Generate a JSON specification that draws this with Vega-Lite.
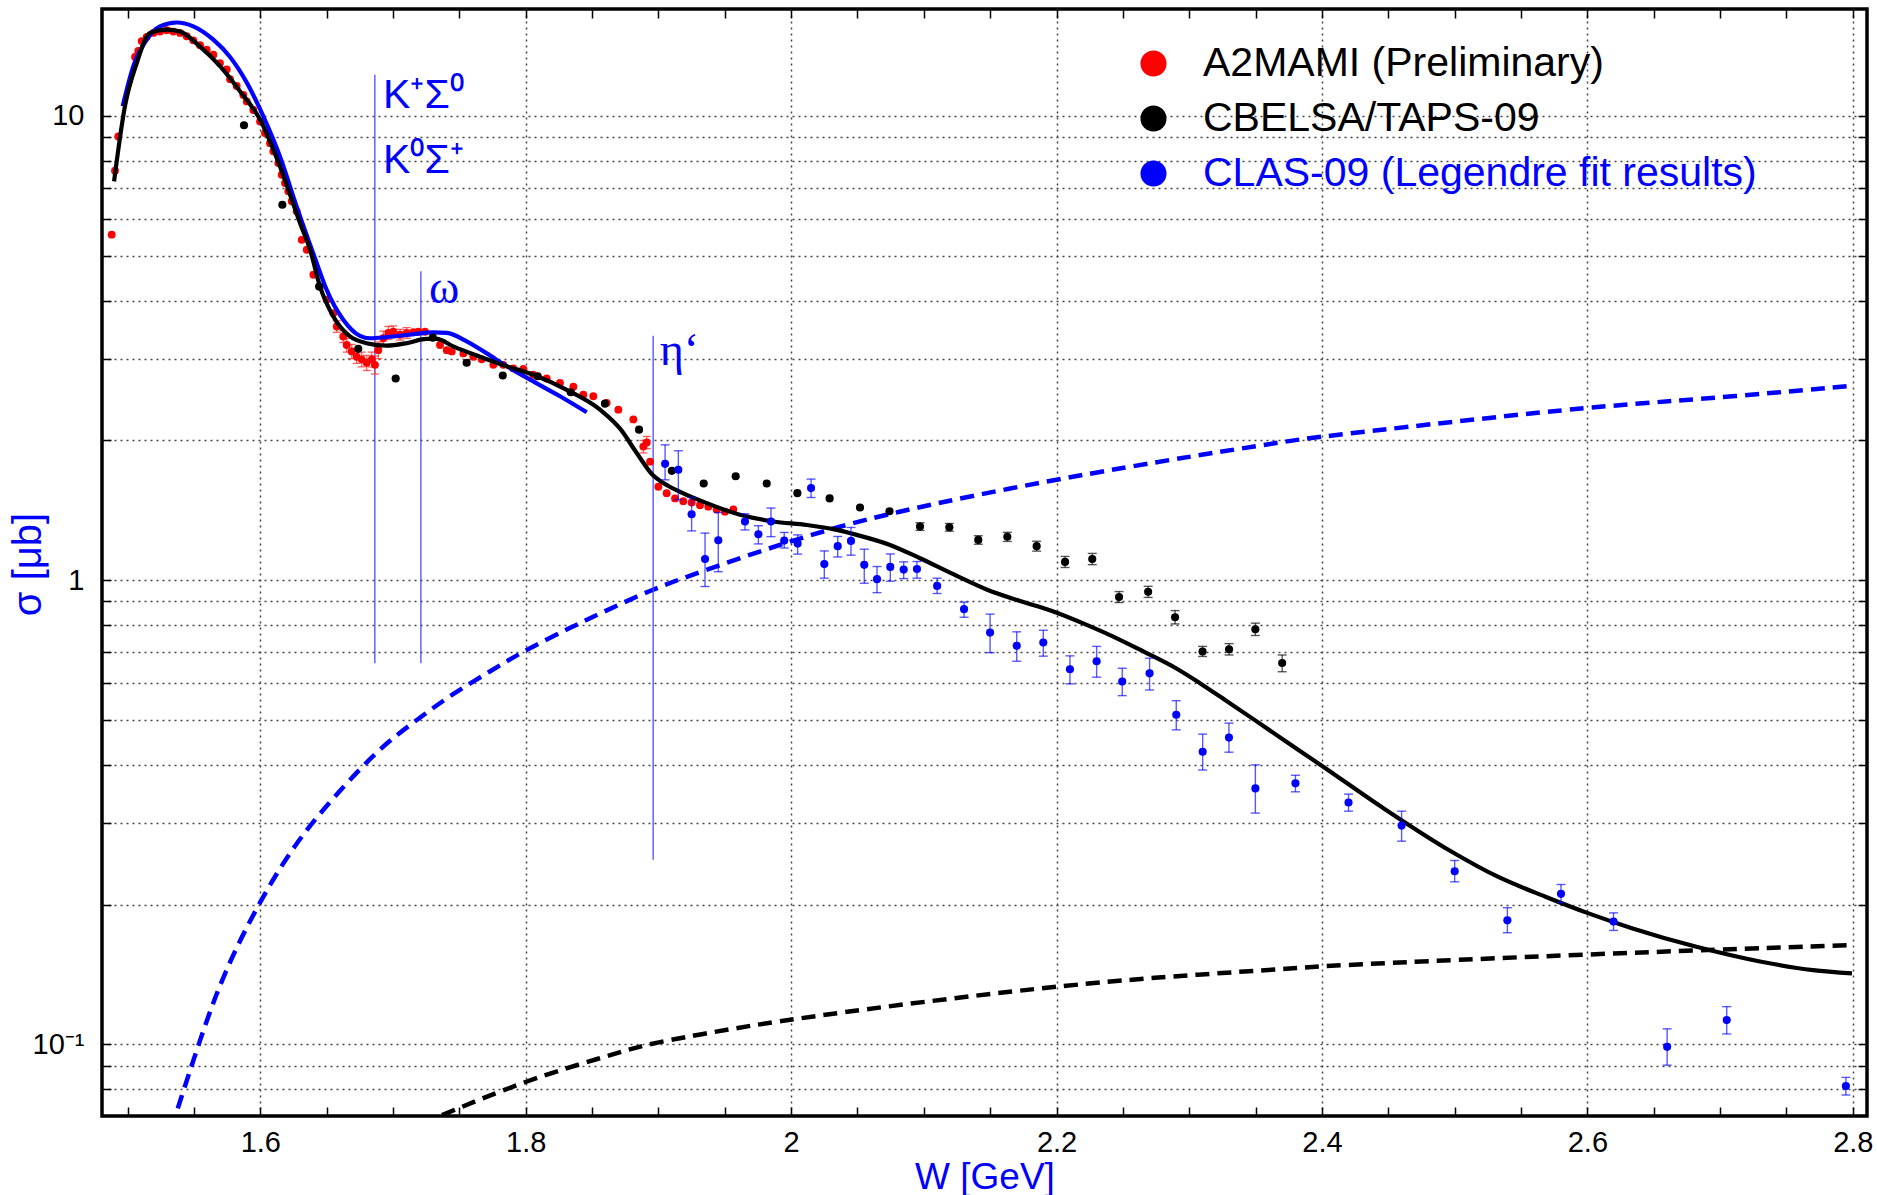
{
  "$schema": "https://vega.github.io/schema/vega-lite/v6.json",
  "width": 1765,
  "height": 1107,
  "autosize": {"type": "none"},
  "padding": {"left": 102, "top": 9, "right": 10, "bottom": 79},
  "background": "white",
  "config": {
    "view": {"stroke": "black", "strokeWidth": 3.5},
    "font": "Liberation Sans"
  },
  "resolve": {"axis": {"x": "independent", "y": "independent"}},
  "datasets": {
    "blueDash": [
      {"W": 1.5378, "s": 0.0728}, {"W": 1.5536, "s": 0.1005}, {"W": 1.572, "s": 0.142}, {"W": 1.6, "s": 0.2047},
      {"W": 1.6259, "s": 0.2700}, {"W": 1.6511, "s": 0.330}, {"W": 1.6763, "s": 0.396}, {"W": 1.6965, "s": 0.450}, {"W": 1.72, "s": 0.505},
      {"W": 1.7436, "s": 0.566}, {"W": 1.7738, "s": 0.638}, {"W": 1.8008, "s": 0.710}, {"W": 1.8344, "s": 0.792}, {"W": 1.856, "s": 0.848},
      {"W": 1.895, "s": 0.955}, {"W": 1.9286, "s": 1.035}, {"W": 2.0006, "s": 1.22}, {"W": 2.0713, "s": 1.394},
      {"W": 2.1991, "s": 1.651}, {"W": 2.3081, "s": 1.862}, {"W": 2.3807, "s": 2.006}, {"W": 2.4002, "s": 2.04},
      {"W": 2.6002, "s": 2.366}, {"W": 2.6822, "s": 2.447}, {"W": 2.7994, "s": 2.623}
    ],
    "blackDash": [
      {"W": 1.7369, "s": 0.0704}, {"W": 1.8008, "s": 0.0838}, {"W": 1.8594, "s": 0.094}, {"W": 1.8883, "s": 0.0997},
      {"W": 1.9286, "s": 0.1047}, {"W": 1.9999, "s": 0.1138}, {"W": 2.2001, "s": 0.1342}, {"W": 2.3146, "s": 0.142},
      {"W": 2.3807, "s": 0.1459}, {"W": 2.4002, "s": 0.1477}, {"W": 2.6002, "s": 0.1565}, {"W": 2.7994, "s": 0.1637}
    ],
    "blueCurve": [
      {"W": 1.4963, "s": 10.5}, {"W": 1.5043, "s": 12.8}, {"W": 1.5144, "s": 14.6}, {"W": 1.5244, "s": 15.6},
      {"W": 1.537, "s": 15.9}, {"W": 1.5495, "s": 15.6}, {"W": 1.5646, "s": 14.6}, {"W": 1.5772, "s": 13.4},
      {"W": 1.5898, "s": 11.8}, {"W": 1.6023, "s": 9.98}, {"W": 1.6148, "s": 8.18}, {"W": 1.6274, "s": 6.38},
      {"W": 1.6412, "s": 4.94}, {"W": 1.65, "s": 4.22}, {"W": 1.6625, "s": 3.64}, {"W": 1.6751, "s": 3.36},
      {"W": 1.6827, "s": 3.32}, {"W": 1.6952, "s": 3.34}, {"W": 1.7128, "s": 3.38}, {"W": 1.7304, "s": 3.42},
      {"W": 1.7405, "s": 3.41}, {"W": 1.7555, "s": 3.27}, {"W": 1.7706, "s": 3.08}, {"W": 1.7857, "s": 2.89},
      {"W": 1.8057, "s": 2.68}, {"W": 1.8258, "s": 2.49}, {"W": 1.846, "s": 2.3}
    ],
    "blackCurve": [
      {"W": 1.4898, "s": 7.23}, {"W": 1.498, "s": 10.5}, {"W": 1.5069, "s": 13.0}, {"W": 1.5169, "s": 15.1},
      {"W": 1.5295, "s": 15.35}, {"W": 1.5395, "s": 15.2}, {"W": 1.5546, "s": 14.1}, {"W": 1.5696, "s": 12.8},
      {"W": 1.5847, "s": 11.3}, {"W": 1.5998, "s": 9.82}, {"W": 1.6148, "s": 7.78}, {"W": 1.6299, "s": 5.88},
      {"W": 1.6375, "s": 5.15}, {"W": 1.645, "s": 4.29}, {"W": 1.655, "s": 3.7}, {"W": 1.6676, "s": 3.35},
      {"W": 1.68, "s": 3.24}, {"W": 1.6952, "s": 3.2}, {"W": 1.7103, "s": 3.24}, {"W": 1.7254, "s": 3.31},
      {"W": 1.733, "s": 3.31}, {"W": 1.7454, "s": 3.19}, {"W": 1.7655, "s": 3.03}, {"W": 1.7857, "s": 2.89},
      {"W": 1.8057, "s": 2.77}, {"W": 1.8309, "s": 2.57}, {"W": 1.856, "s": 2.33}, {"W": 1.8711, "s": 2.12},
      {"W": 1.8836, "s": 1.88}, {"W": 1.8961, "s": 1.68}, {"W": 1.9037, "s": 1.62}, {"W": 1.9163, "s": 1.55},
      {"W": 1.9364, "s": 1.466}, {"W": 1.9615, "s": 1.383}, {"W": 1.9866, "s": 1.338}, {"W": 2.0117, "s": 1.315},
      {"W": 2.0318, "s": 1.288}, {"W": 2.0494, "s": 1.252}, {"W": 2.0745, "s": 1.191}, {"W": 2.0971, "s": 1.115},
      {"W": 2.1222, "s": 1.030}, {"W": 2.1473, "s": 0.955}, {"W": 2.1724, "s": 0.902}, {"W": 2.1976, "s": 0.856},
      {"W": 2.2227, "s": 0.801}, {"W": 2.2478, "s": 0.744}, {"W": 2.2664, "s": 0.700}, {"W": 2.29, "s": 0.646},
      {"W": 2.308, "s": 0.600}, {"W": 2.327, "s": 0.552}, {"W": 2.3505, "s": 0.497}, {"W": 2.374, "s": 0.447},
      {"W": 2.399, "s": 0.400}, {"W": 2.4447, "s": 0.325}, {"W": 2.4968, "s": 0.261}, {"W": 2.5325, "s": 0.2297},
      {"W": 2.5684, "s": 0.208}, {"W": 2.6009, "s": 0.1915}, {"W": 2.6335, "s": 0.178}, {"W": 2.6822, "s": 0.1623},
      {"W": 2.731, "s": 0.1507}, {"W": 2.77, "s": 0.1445}, {"W": 2.7994, "s": 0.1422}
    ],
    "thresholds": [
      {"W": 1.6863, "lo": 0.662, "hi": 12.27},
      {"W": 1.721, "lo": 0.662, "hi": 4.63},
      {"W": 1.896, "lo": 0.25, "hi": 3.36}
    ],
    "kLabels": [
      {"W": 1.6925, "s": 10.4, "t": "K⁺Σ⁰"},
      {"W": 1.6925, "s": 7.55, "t": "K⁰Σ⁺"}
    ],
    "greekLabels": [
      {"W": 1.7271, "s": 3.96, "t": "ω"},
      {"W": 1.901, "s": 2.91, "t": "η‘"}
    ],
    "red": [
      {"W": 1.488, "s": 5.55, "series": "A2MAMI (Preliminary)"}, {"W": 1.4905, "s": 7.62, "series": "A2MAMI (Preliminary)"},
      {"W": 1.493, "s": 9.03, "series": "A2MAMI (Preliminary)"}, {"W": 1.5056, "s": 13.4, "series": "A2MAMI (Preliminary)"},
      {"W": 1.508, "s": 13.8, "series": "A2MAMI (Preliminary)"}, {"W": 1.5106, "s": 14.5, "series": "A2MAMI (Preliminary)"},
      {"W": 1.5144, "s": 14.8, "series": "A2MAMI (Preliminary)"}, {"W": 1.5194, "s": 15.1, "series": "A2MAMI (Preliminary)"},
      {"W": 1.5244, "s": 15.2, "series": "A2MAMI (Preliminary)"}, {"W": 1.5295, "s": 15.3, "series": "A2MAMI (Preliminary)"},
      {"W": 1.5344, "s": 15.2, "series": "A2MAMI (Preliminary)"}, {"W": 1.5395, "s": 15.1, "series": "A2MAMI (Preliminary)"},
      {"W": 1.5445, "s": 14.85, "series": "A2MAMI (Preliminary)"}, {"W": 1.5495, "s": 14.55, "series": "A2MAMI (Preliminary)"},
      {"W": 1.5546, "s": 14.2, "series": "A2MAMI (Preliminary)"}, {"W": 1.5596, "s": 13.9, "series": "A2MAMI (Preliminary)"},
      {"W": 1.5646, "s": 13.55, "series": "A2MAMI (Preliminary)"}, {"W": 1.5696, "s": 13.0, "series": "A2MAMI (Preliminary)"},
      {"W": 1.5747, "s": 12.6, "series": "A2MAMI (Preliminary)"}, {"W": 1.5772, "s": 12.0, "series": "A2MAMI (Preliminary)"},
      {"W": 1.5822, "s": 11.6, "series": "A2MAMI (Preliminary)"}, {"W": 1.5872, "s": 11.1, "series": "A2MAMI (Preliminary)"},
      {"W": 1.5898, "s": 10.75, "series": "A2MAMI (Preliminary)"}, {"W": 1.5947, "s": 10.3, "series": "A2MAMI (Preliminary)"},
      {"W": 1.5998, "s": 9.73, "series": "A2MAMI (Preliminary)"}, {"W": 1.6035, "s": 9.19, "series": "A2MAMI (Preliminary)"},
      {"W": 1.6073, "s": 8.74, "series": "A2MAMI (Preliminary)"}, {"W": 1.6098, "s": 8.39, "series": "A2MAMI (Preliminary)"},
      {"W": 1.6136, "s": 7.92, "series": "A2MAMI (Preliminary)"}, {"W": 1.6161, "s": 7.47, "series": "A2MAMI (Preliminary)"},
      {"W": 1.6186, "s": 7.17, "series": "A2MAMI (Preliminary)"}, {"W": 1.6211, "s": 6.88, "series": "A2MAMI (Preliminary)"},
      {"W": 1.6237, "s": 6.55, "series": "A2MAMI (Preliminary)"}, {"W": 1.6274, "s": 6.23, "series": "A2MAMI (Preliminary)"},
      {"W": 1.6312, "s": 5.41, "series": "A2MAMI (Preliminary)"}, {"W": 1.635, "s": 5.15, "series": "A2MAMI (Preliminary)"},
      {"W": 1.64, "s": 4.55, "series": "A2MAMI (Preliminary)"}, {"W": 1.645, "s": 4.29, "series": "A2MAMI (Preliminary)"},
      {"W": 1.65, "s": 4.02, "series": "A2MAMI (Preliminary)"}, {"W": 1.655, "s": 3.76, "series": "A2MAMI (Preliminary)"},
      {"W": 1.6576, "s": 3.52, "series": "A2MAMI (Preliminary)"}, {"W": 1.6625, "s": 3.35, "series": "A2MAMI (Preliminary)"},
      {"W": 1.6651, "s": 3.21, "series": "A2MAMI (Preliminary)"}, {"W": 1.6689, "s": 3.11, "series": "A2MAMI (Preliminary)"},
      {"W": 1.6726, "s": 3.03, "series": "A2MAMI (Preliminary)"}, {"W": 1.6764, "s": 2.99, "series": "A2MAMI (Preliminary)"},
      {"W": 1.6802, "s": 2.94, "series": "A2MAMI (Preliminary)"}, {"W": 1.684, "s": 2.99, "series": "A2MAMI (Preliminary)"},
      {"W": 1.6864, "s": 2.91, "series": "A2MAMI (Preliminary)"}, {"W": 1.6889, "s": 3.13, "series": "A2MAMI (Preliminary)"},
      {"W": 1.6927, "s": 3.32, "series": "A2MAMI (Preliminary)"}, {"W": 1.6965, "s": 3.41, "series": "A2MAMI (Preliminary)"},
      {"W": 1.7002, "s": 3.43, "series": "A2MAMI (Preliminary)"}, {"W": 1.7053, "s": 3.38, "series": "A2MAMI (Preliminary)"},
      {"W": 1.7103, "s": 3.41, "series": "A2MAMI (Preliminary)"}, {"W": 1.7153, "s": 3.42, "series": "A2MAMI (Preliminary)"},
      {"W": 1.7191, "s": 3.43, "series": "A2MAMI (Preliminary)"}, {"W": 1.7241, "s": 3.43, "series": "A2MAMI (Preliminary)"},
      {"W": 1.7354, "s": 3.21, "series": "A2MAMI (Preliminary)"}, {"W": 1.7405, "s": 3.13, "series": "A2MAMI (Preliminary)"},
      {"W": 1.7442, "s": 3.11, "series": "A2MAMI (Preliminary)"}, {"W": 1.753, "s": 3.08, "series": "A2MAMI (Preliminary)"},
      {"W": 1.7605, "s": 3.03, "series": "A2MAMI (Preliminary)"}, {"W": 1.7668, "s": 2.99, "series": "A2MAMI (Preliminary)"},
      {"W": 1.7756, "s": 2.91, "series": "A2MAMI (Preliminary)"}, {"W": 1.7831, "s": 2.91, "series": "A2MAMI (Preliminary)"},
      {"W": 1.7906, "s": 2.86, "series": "A2MAMI (Preliminary)"}, {"W": 1.7982, "s": 2.85, "series": "A2MAMI (Preliminary)"},
      {"W": 1.8057, "s": 2.77, "series": "A2MAMI (Preliminary)"}, {"W": 1.8158, "s": 2.72, "series": "A2MAMI (Preliminary)"},
      {"W": 1.8258, "s": 2.66, "series": "A2MAMI (Preliminary)"}, {"W": 1.8359, "s": 2.61, "series": "A2MAMI (Preliminary)"},
      {"W": 1.8434, "s": 2.51, "series": "A2MAMI (Preliminary)"}, {"W": 1.8509, "s": 2.49, "series": "A2MAMI (Preliminary)"},
      {"W": 1.861, "s": 2.41, "series": "A2MAMI (Preliminary)"}, {"W": 1.8698, "s": 2.33, "series": "A2MAMI (Preliminary)"},
      {"W": 1.8811, "s": 2.22, "series": "A2MAMI (Preliminary)"}, {"W": 1.8886, "s": 1.94, "series": "A2MAMI (Preliminary)"},
      {"W": 1.8912, "s": 1.98, "series": "A2MAMI (Preliminary)"}, {"W": 1.8937, "s": 1.8, "series": "A2MAMI (Preliminary)"},
      {"W": 1.8999, "s": 1.59, "series": "A2MAMI (Preliminary)"}, {"W": 1.9062, "s": 1.54, "series": "A2MAMI (Preliminary)"},
      {"W": 1.9125, "s": 1.5, "series": "A2MAMI (Preliminary)"}, {"W": 1.9187, "s": 1.48, "series": "A2MAMI (Preliminary)"},
      {"W": 1.925, "s": 1.47, "series": "A2MAMI (Preliminary)"}, {"W": 1.9313, "s": 1.45, "series": "A2MAMI (Preliminary)"},
      {"W": 1.9376, "s": 1.44, "series": "A2MAMI (Preliminary)"}, {"W": 1.9439, "s": 1.42, "series": "A2MAMI (Preliminary)"},
      {"W": 1.9501, "s": 1.405, "series": "A2MAMI (Preliminary)"}, {"W": 1.9564, "s": 1.42, "series": "A2MAMI (Preliminary)"}
    ],
    "redErr": [
      {"W": 1.6576, "lo": 3.42, "hi": 3.62}, {"W": 1.6625, "lo": 3.25, "hi": 3.45}, {"W": 1.6651, "lo": 3.1, "hi": 3.32},
      {"W": 1.6689, "lo": 3.0, "hi": 3.22}, {"W": 1.6726, "lo": 2.93, "hi": 3.14}, {"W": 1.6764, "lo": 2.88, "hi": 3.1},
      {"W": 1.6802, "lo": 2.83, "hi": 3.05}, {"W": 1.684, "lo": 2.88, "hi": 3.1}, {"W": 1.6864, "lo": 2.78, "hi": 3.04},
      {"W": 1.6889, "lo": 3.0, "hi": 3.26}, {"W": 1.6927, "lo": 3.2, "hi": 3.44}, {"W": 1.6965, "lo": 3.3, "hi": 3.52},
      {"W": 1.7002, "lo": 3.33, "hi": 3.53}, {"W": 1.7053, "lo": 3.29, "hi": 3.47}, {"W": 1.7103, "lo": 3.32, "hi": 3.5},
      {"W": 1.8886, "lo": 1.88, "hi": 2.0}, {"W": 1.8912, "lo": 1.92, "hi": 2.04}
    ],
    "others": [
      {"W": 1.5877, "s": 9.55, "series": "CBELSA/TAPS-09"}, {"W": 1.6166, "s": 6.44, "series": "CBELSA/TAPS-09"},
      {"W": 1.6443, "s": 4.29, "series": "CBELSA/TAPS-09"}, {"W": 1.6738, "s": 3.15, "series": "CBELSA/TAPS-09"},
      {"W": 1.702, "s": 2.72, "series": "CBELSA/TAPS-09"}, {"W": 1.73, "s": 3.33, "series": "CBELSA/TAPS-09"},
      {"W": 1.7555, "s": 2.94, "series": "CBELSA/TAPS-09"}, {"W": 1.7827, "s": 2.76, "series": "CBELSA/TAPS-09"},
      {"W": 1.809, "s": 2.75, "series": "CBELSA/TAPS-09"}, {"W": 1.8339, "s": 2.54, "series": "CBELSA/TAPS-09"},
      {"W": 1.8597, "s": 2.4, "series": "CBELSA/TAPS-09"}, {"W": 1.8854, "s": 2.11, "series": "CBELSA/TAPS-09"},
      {"W": 1.9101, "s": 1.72, "series": "CBELSA/TAPS-09"}, {"W": 1.9341, "s": 1.615, "series": "CBELSA/TAPS-09"},
      {"W": 1.9582, "s": 1.674, "series": "CBELSA/TAPS-09"}, {"W": 1.9816, "s": 1.615, "series": "CBELSA/TAPS-09"},
      {"W": 2.0047, "s": 1.54, "series": "CBELSA/TAPS-09"}, {"W": 2.029, "s": 1.5, "series": "CBELSA/TAPS-09"},
      {"W": 2.0519, "s": 1.434, "series": "CBELSA/TAPS-09"}, {"W": 2.0741, "s": 1.408, "series": "CBELSA/TAPS-09"},
      {"W": 2.0971, "s": 1.305, "lo": 1.28, "hi": 1.33, "series": "CBELSA/TAPS-09"}, {"W": 2.1192, "s": 1.3, "lo": 1.275, "hi": 1.325, "series": "CBELSA/TAPS-09"},
      {"W": 2.141, "s": 1.221, "lo": 1.195, "hi": 1.247, "series": "CBELSA/TAPS-09"}, {"W": 2.1629, "s": 1.24, "lo": 1.212, "hi": 1.268, "series": "CBELSA/TAPS-09"},
      {"W": 2.185, "s": 1.184, "lo": 1.155, "hi": 1.213, "series": "CBELSA/TAPS-09"}, {"W": 2.2064, "s": 1.095, "lo": 1.065, "hi": 1.125, "series": "CBELSA/TAPS-09"},
      {"W": 2.2269, "s": 1.111, "lo": 1.08, "hi": 1.142, "series": "CBELSA/TAPS-09"}, {"W": 2.2471, "s": 0.92, "lo": 0.895, "hi": 0.945, "series": "CBELSA/TAPS-09"},
      {"W": 2.269, "s": 0.944, "lo": 0.918, "hi": 0.97, "series": "CBELSA/TAPS-09"}, {"W": 2.2893, "s": 0.832, "lo": 0.805, "hi": 0.86, "series": "CBELSA/TAPS-09"},
      {"W": 2.31, "s": 0.702, "lo": 0.685, "hi": 0.72, "series": "CBELSA/TAPS-09"}, {"W": 2.33, "s": 0.71, "lo": 0.69, "hi": 0.73, "series": "CBELSA/TAPS-09"},
      {"W": 2.3498, "s": 0.784, "lo": 0.76, "hi": 0.808, "series": "CBELSA/TAPS-09"}, {"W": 2.37, "s": 0.663, "lo": 0.635, "hi": 0.69, "series": "CBELSA/TAPS-09"},
      {"W": 1.905, "s": 1.781, "lo": 1.645, "hi": 1.957, "series": "CLAS-09 (Legendre fit results)"},
      {"W": 1.915, "s": 1.729, "lo": 1.49, "hi": 1.9, "series": "CLAS-09 (Legendre fit results)"},
      {"W": 1.925, "s": 1.387, "lo": 1.277, "hi": 1.507, "series": "CLAS-09 (Legendre fit results)"},
      {"W": 1.9351, "s": 1.111, "lo": 0.969, "hi": 1.263, "series": "CLAS-09 (Legendre fit results)"},
      {"W": 1.9451, "s": 1.219, "lo": 1.043, "hi": 1.399, "series": "CLAS-09 (Legendre fit results)"},
      {"W": 1.9652, "s": 1.338, "lo": 1.283, "hi": 1.39, "series": "CLAS-09 (Legendre fit results)"},
      {"W": 1.9753, "s": 1.256, "lo": 1.197, "hi": 1.31, "series": "CLAS-09 (Legendre fit results)"},
      {"W": 1.9848, "s": 1.338, "lo": 1.241, "hi": 1.43, "series": "CLAS-09 (Legendre fit results)"},
      {"W": 1.9948, "s": 1.217, "lo": 1.173, "hi": 1.267, "series": "CLAS-09 (Legendre fit results)"},
      {"W": 2.0049, "s": 1.199, "lo": 1.138, "hi": 1.252, "series": "CLAS-09 (Legendre fit results)"},
      {"W": 2.015, "s": 1.579, "lo": 1.507, "hi": 1.651, "series": "CLAS-09 (Legendre fit results)"},
      {"W": 2.025, "s": 1.083, "lo": 1.01, "hi": 1.156, "series": "CLAS-09 (Legendre fit results)"},
      {"W": 2.0351, "s": 1.184, "lo": 1.122, "hi": 1.242, "series": "CLAS-09 (Legendre fit results)"},
      {"W": 2.0451, "s": 1.215, "lo": 1.132, "hi": 1.299, "series": "CLAS-09 (Legendre fit results)"},
      {"W": 2.0551, "s": 1.079, "lo": 0.985, "hi": 1.166, "series": "CLAS-09 (Legendre fit results)"},
      {"W": 2.0647, "s": 1.005, "lo": 0.94, "hi": 1.07, "series": "CLAS-09 (Legendre fit results)"},
      {"W": 2.0747, "s": 1.068, "lo": 0.995, "hi": 1.139, "series": "CLAS-09 (Legendre fit results)"},
      {"W": 2.0848, "s": 1.054, "lo": 1.008, "hi": 1.095, "series": "CLAS-09 (Legendre fit results)"},
      {"W": 2.0948, "s": 1.057, "lo": 1.01, "hi": 1.097, "series": "CLAS-09 (Legendre fit results)"},
      {"W": 2.11, "s": 0.972, "lo": 0.936, "hi": 1.01, "series": "CLAS-09 (Legendre fit results)"},
      {"W": 2.1303, "s": 0.866, "lo": 0.832, "hi": 0.897, "series": "CLAS-09 (Legendre fit results)"},
      {"W": 2.1499, "s": 0.771, "lo": 0.698, "hi": 0.845, "series": "CLAS-09 (Legendre fit results)"},
      {"W": 2.17, "s": 0.722, "lo": 0.669, "hi": 0.774, "series": "CLAS-09 (Legendre fit results)"},
      {"W": 2.19, "s": 0.734, "lo": 0.686, "hi": 0.78, "series": "CLAS-09 (Legendre fit results)"},
      {"W": 2.2101, "s": 0.643, "lo": 0.598, "hi": 0.687, "series": "CLAS-09 (Legendre fit results)"},
      {"W": 2.2302, "s": 0.669, "lo": 0.618, "hi": 0.72, "series": "CLAS-09 (Legendre fit results)"},
      {"W": 2.2495, "s": 0.605, "lo": 0.564, "hi": 0.646, "series": "CLAS-09 (Legendre fit results)"},
      {"W": 2.2701, "s": 0.63, "lo": 0.58, "hi": 0.679, "series": "CLAS-09 (Legendre fit results)"},
      {"W": 2.2902, "s": 0.513, "lo": 0.476, "hi": 0.55, "series": "CLAS-09 (Legendre fit results)"},
      {"W": 2.3101, "s": 0.427, "lo": 0.39, "hi": 0.466, "series": "CLAS-09 (Legendre fit results)"},
      {"W": 2.3299, "s": 0.458, "lo": 0.426, "hi": 0.492, "series": "CLAS-09 (Legendre fit results)"},
      {"W": 2.3498, "s": 0.356, "lo": 0.315, "hi": 0.4, "series": "CLAS-09 (Legendre fit results)"},
      {"W": 2.38, "s": 0.365, "lo": 0.35, "hi": 0.38, "series": "CLAS-09 (Legendre fit results)"},
      {"W": 2.42, "s": 0.332, "lo": 0.318, "hi": 0.346, "series": "CLAS-09 (Legendre fit results)"},
      {"W": 2.46, "s": 0.296, "lo": 0.274, "hi": 0.318, "series": "CLAS-09 (Legendre fit results)"},
      {"W": 2.5, "s": 0.236, "lo": 0.224, "hi": 0.249, "series": "CLAS-09 (Legendre fit results)"},
      {"W": 2.5397, "s": 0.185, "lo": 0.174, "hi": 0.197, "series": "CLAS-09 (Legendre fit results)"},
      {"W": 2.5801, "s": 0.211, "lo": 0.202, "hi": 0.221, "series": "CLAS-09 (Legendre fit results)"},
      {"W": 2.6197, "s": 0.184, "lo": 0.176, "hi": 0.192, "series": "CLAS-09 (Legendre fit results)"},
      {"W": 2.6601, "s": 0.0988, "lo": 0.0902, "hi": 0.108, "series": "CLAS-09 (Legendre fit results)"},
      {"W": 2.705, "s": 0.1128, "lo": 0.1053, "hi": 0.1206, "series": "CLAS-09 (Legendre fit results)"},
      {"W": 2.7948, "s": 0.0813, "lo": 0.0778, "hi": 0.0849, "series": "CLAS-09 (Legendre fit results)"}
    ]
  },
  "layer": [
    {
      "data": {"name": "blueDash"},
      "mark": {"type": "line", "color": "#0000ff", "strokeWidth": 4.5, "strokeDash": [14, 8], "clip": true, "interpolate": "basis"},
      "encoding": {
        "x": {
          "field": "W", "type": "quantitative",
          "scale": {"domain": [1.4807, 2.8107], "nice": false, "zero": false},
          "axis": {
            "orient": "bottom",
            "values": [1.5, 1.55, 1.6, 1.65, 1.7, 1.75, 1.8, 1.85, 1.9, 1.95, 2, 2.05, 2.1, 2.15, 2.2, 2.25, 2.3, 2.35, 2.4, 2.45, 2.5, 2.55, 2.6, 2.65, 2.7, 2.75, 2.8],
            "labelExpr": "abs(datum.value*5 - round(datum.value*5)) < 0.001 ? format(datum.value, '~g') : ''",
            "labelFont": "Liberation Sans", "labelFontSize": 29, "labelColor": "black",
            "labelPadding": 21, "labelFlush": false, "labelOverlap": false,
            "tickSize": -9, "tickColor": "black", "tickWidth": 1.5,
            "domain": false,
            "grid": true, "gridColor": "#444444", "gridDash": [2, 4], "gridWidth": 1.5,
            "gridOpacity": {"condition": {"test": "abs(datum.value*5 - round(datum.value*5)) < 0.001", "value": 1}, "value": 0},
            "title": "W [GeV]", "titleColor": "#0000ff", "titleFont": "Liberation Sans", "titleFontSize": 37, "titleFontWeight": "normal",
            "titleBaseline": "alphabetic", "titleY": 72
          }
        },
        "y": {
          "field": "s", "type": "quantitative",
          "scale": {"type": "log", "domain": [0.0701, 17.0], "nice": false},
          "axis": {
            "orient": "left",
            "values": [0.08, 0.09, 0.1, 0.2, 0.3, 0.4, 0.5, 0.6, 0.7, 0.8, 0.9, 1, 2, 3, 4, 5, 6, 7, 8, 9, 10],
            "labelExpr": "datum.value == 10 ? '10' : (datum.value == 1 ? '1' : (datum.value == 0.1 ? '10⁻¹' : ''))",
            "labelFont": "Liberation Sans", "labelFontSize": 29, "labelColor": "black",
            "labelPadding": 27, "labelOverlap": false, "labelFlush": false,
            "tickSize": -9, "tickColor": "black", "tickWidth": 1.5,
            "domain": false,
            "grid": true, "gridColor": "#444444", "gridDash": [2, 4], "gridWidth": 1.5,
            "title": "σ [μb]", "titleColor": "#0000ff", "titleFont": "Liberation Sans", "titleFontSize": 40, "titleFontWeight": "normal",
            "titleAngle": -90, "titleAlign": "center", "titleBaseline": "middle", "titleX": -74, "titleY": 555
          }
        }
      }
    },
    {
      "data": {"name": "blackDash"},
      "mark": {"type": "line", "color": "black", "strokeWidth": 4.5, "strokeDash": [14, 8], "clip": true, "interpolate": "basis"},
      "encoding": {
        "x": {
          "field": "W", "type": "quantitative",
          "scale": {"domain": [1.4807, 2.8107], "nice": false, "zero": false},
          "axis": {
            "orient": "top",
            "values": [1.5, 1.55, 1.6, 1.65, 1.7, 1.75, 1.8, 1.85, 1.9, 1.95, 2, 2.05, 2.1, 2.15, 2.2, 2.25, 2.3, 2.35, 2.4, 2.45, 2.5, 2.55, 2.6, 2.65, 2.7, 2.75, 2.8],
            "labels": false, "grid": false, "domain": false, "title": null,
            "tickSize": -9, "tickColor": "black", "tickWidth": 1.5
          }
        },
        "y": {
          "field": "s", "type": "quantitative",
          "scale": {"type": "log", "domain": [0.0701, 17.0], "nice": false},
          "axis": {
            "orient": "right",
            "values": [0.08, 0.09, 0.1, 0.2, 0.3, 0.4, 0.5, 0.6, 0.7, 0.8, 0.9, 1, 2, 3, 4, 5, 6, 7, 8, 9, 10],
            "labels": false, "grid": false, "domain": false, "title": null,
            "tickSize": -9, "tickColor": "black", "tickWidth": 1.5
          }
        }
      }
    },
    {
      "data": {"name": "thresholds"},
      "mark": {"type": "rule", "color": "#4a4aff", "strokeWidth": 1.3},
      "encoding": {
        "x": {"field": "W", "type": "quantitative", "scale": {"domain": [1.4807, 2.8107], "nice": false, "zero": false}, "axis": null},
        "y": {"field": "lo", "type": "quantitative", "scale": {"type": "log", "domain": [0.0701, 17.0], "nice": false}, "axis": null},
        "y2": {"field": "hi"}
      }
    },
    {
      "data": {"name": "kLabels"},
      "mark": {"type": "text", "align": "left", "baseline": "alphabetic", "color": "#0000ff", "font": "Liberation Sans", "fontSize": 41},
      "encoding": {
        "x": {"field": "W", "type": "quantitative", "scale": {"domain": [1.4807, 2.8107], "nice": false, "zero": false}, "axis": null},
        "y": {"field": "s", "type": "quantitative", "scale": {"type": "log", "domain": [0.0701, 17.0], "nice": false}, "axis": null},
        "text": {"field": "t"}
      }
    },
    {
      "data": {"name": "greekLabels"},
      "mark": {"type": "text", "align": "left", "baseline": "alphabetic", "color": "#0000ff", "font": "Liberation Serif", "fontSize": 46},
      "encoding": {
        "x": {"field": "W", "type": "quantitative", "scale": {"domain": [1.4807, 2.8107], "nice": false, "zero": false}, "axis": null},
        "y": {"field": "s", "type": "quantitative", "scale": {"type": "log", "domain": [0.0701, 17.0], "nice": false}, "axis": null},
        "text": {"field": "t"}
      }
    },
    {
      "data": {"name": "redErr"},
      "mark": {"type": "errorbar", "color": "#ff3333", "ticks": {"size": 8}, "thickness": 1.3, "opacity": 0.8},
      "encoding": {
        "x": {"field": "W", "type": "quantitative", "scale": {"domain": [1.4807, 2.8107], "nice": false, "zero": false}, "axis": null},
        "y": {"field": "lo", "type": "quantitative", "scale": {"type": "log", "domain": [0.0701, 17.0], "nice": false}, "axis": null},
        "y2": {"field": "hi"}
      }
    },
    {
      "data": {"name": "red"},
      "mark": {"type": "point", "filled": true, "size": 62, "opacity": 1},
      "encoding": {
        "x": {"field": "W", "type": "quantitative", "scale": {"domain": [1.4807, 2.8107], "nice": false, "zero": false}, "axis": null},
        "y": {"field": "s", "type": "quantitative", "scale": {"type": "log", "domain": [0.0701, 17.0], "nice": false}, "axis": null},
        "color": {
          "field": "series", "type": "nominal",
          "scale": {"domain": ["A2MAMI (Preliminary)", "CBELSA/TAPS-09", "CLAS-09 (Legendre fit results)"], "range": ["#ff0000", "#000000", "#0000ff"]},
          "legend": {
            "orient": "none", "legendX": 1031, "legendY": 34, "title": null, "padding": 0,
            "symbolType": "circle", "symbolSize": 680, "symbolStrokeWidth": 0,
            "labelFont": "Liberation Sans", "labelFontSize": 41, "labelOffset": 29, "labelLimit": 900,
            "rowPadding": 13,
            "labelColor": {"expr": "datum.label == 'CLAS-09 (Legendre fit results)' ? '#0000ff' : '#000000'"}
          }
        }
      }
    },
    {
      "data": {"name": "blueCurve"},
      "mark": {"type": "line", "color": "#0000ff", "strokeWidth": 4.2, "clip": true, "interpolate": "monotone"},
      "encoding": {
        "x": {"field": "W", "type": "quantitative", "scale": {"domain": [1.4807, 2.8107], "nice": false, "zero": false}, "axis": null},
        "y": {"field": "s", "type": "quantitative", "scale": {"type": "log", "domain": [0.0701, 17.0], "nice": false}, "axis": null}
      }
    },
    {
      "data": {"name": "blackCurve"},
      "mark": {"type": "line", "color": "black", "strokeWidth": 4.2, "clip": true, "interpolate": "monotone"},
      "encoding": {
        "x": {"field": "W", "type": "quantitative", "scale": {"domain": [1.4807, 2.8107], "nice": false, "zero": false}, "axis": null},
        "y": {"field": "s", "type": "quantitative", "scale": {"type": "log", "domain": [0.0701, 17.0], "nice": false}, "axis": null}
      }
    },
    {
      "data": {"name": "others"},
      "transform": [{"filter": "isValid(datum.lo)"}],
      "mark": {"type": "errorbar", "ticks": {"size": 9}, "thickness": 1.4, "opacity": 0.65},
      "encoding": {
        "x": {"field": "W", "type": "quantitative", "scale": {"domain": [1.4807, 2.8107], "nice": false, "zero": false}, "axis": null},
        "y": {"field": "lo", "type": "quantitative", "scale": {"type": "log", "domain": [0.0701, 17.0], "nice": false}, "axis": null},
        "y2": {"field": "hi"},
        "color": {"field": "series", "type": "nominal", "legend": null}
      }
    },
    {
      "data": {"name": "others"},
      "mark": {"type": "point", "filled": true, "size": 66, "opacity": 1},
      "encoding": {
        "x": {"field": "W", "type": "quantitative", "scale": {"domain": [1.4807, 2.8107], "nice": false, "zero": false}, "axis": null},
        "y": {"field": "s", "type": "quantitative", "scale": {"type": "log", "domain": [0.0701, 17.0], "nice": false}, "axis": null},
        "color": {"field": "series", "type": "nominal", "legend": null}
      }
    }
  ]
}
